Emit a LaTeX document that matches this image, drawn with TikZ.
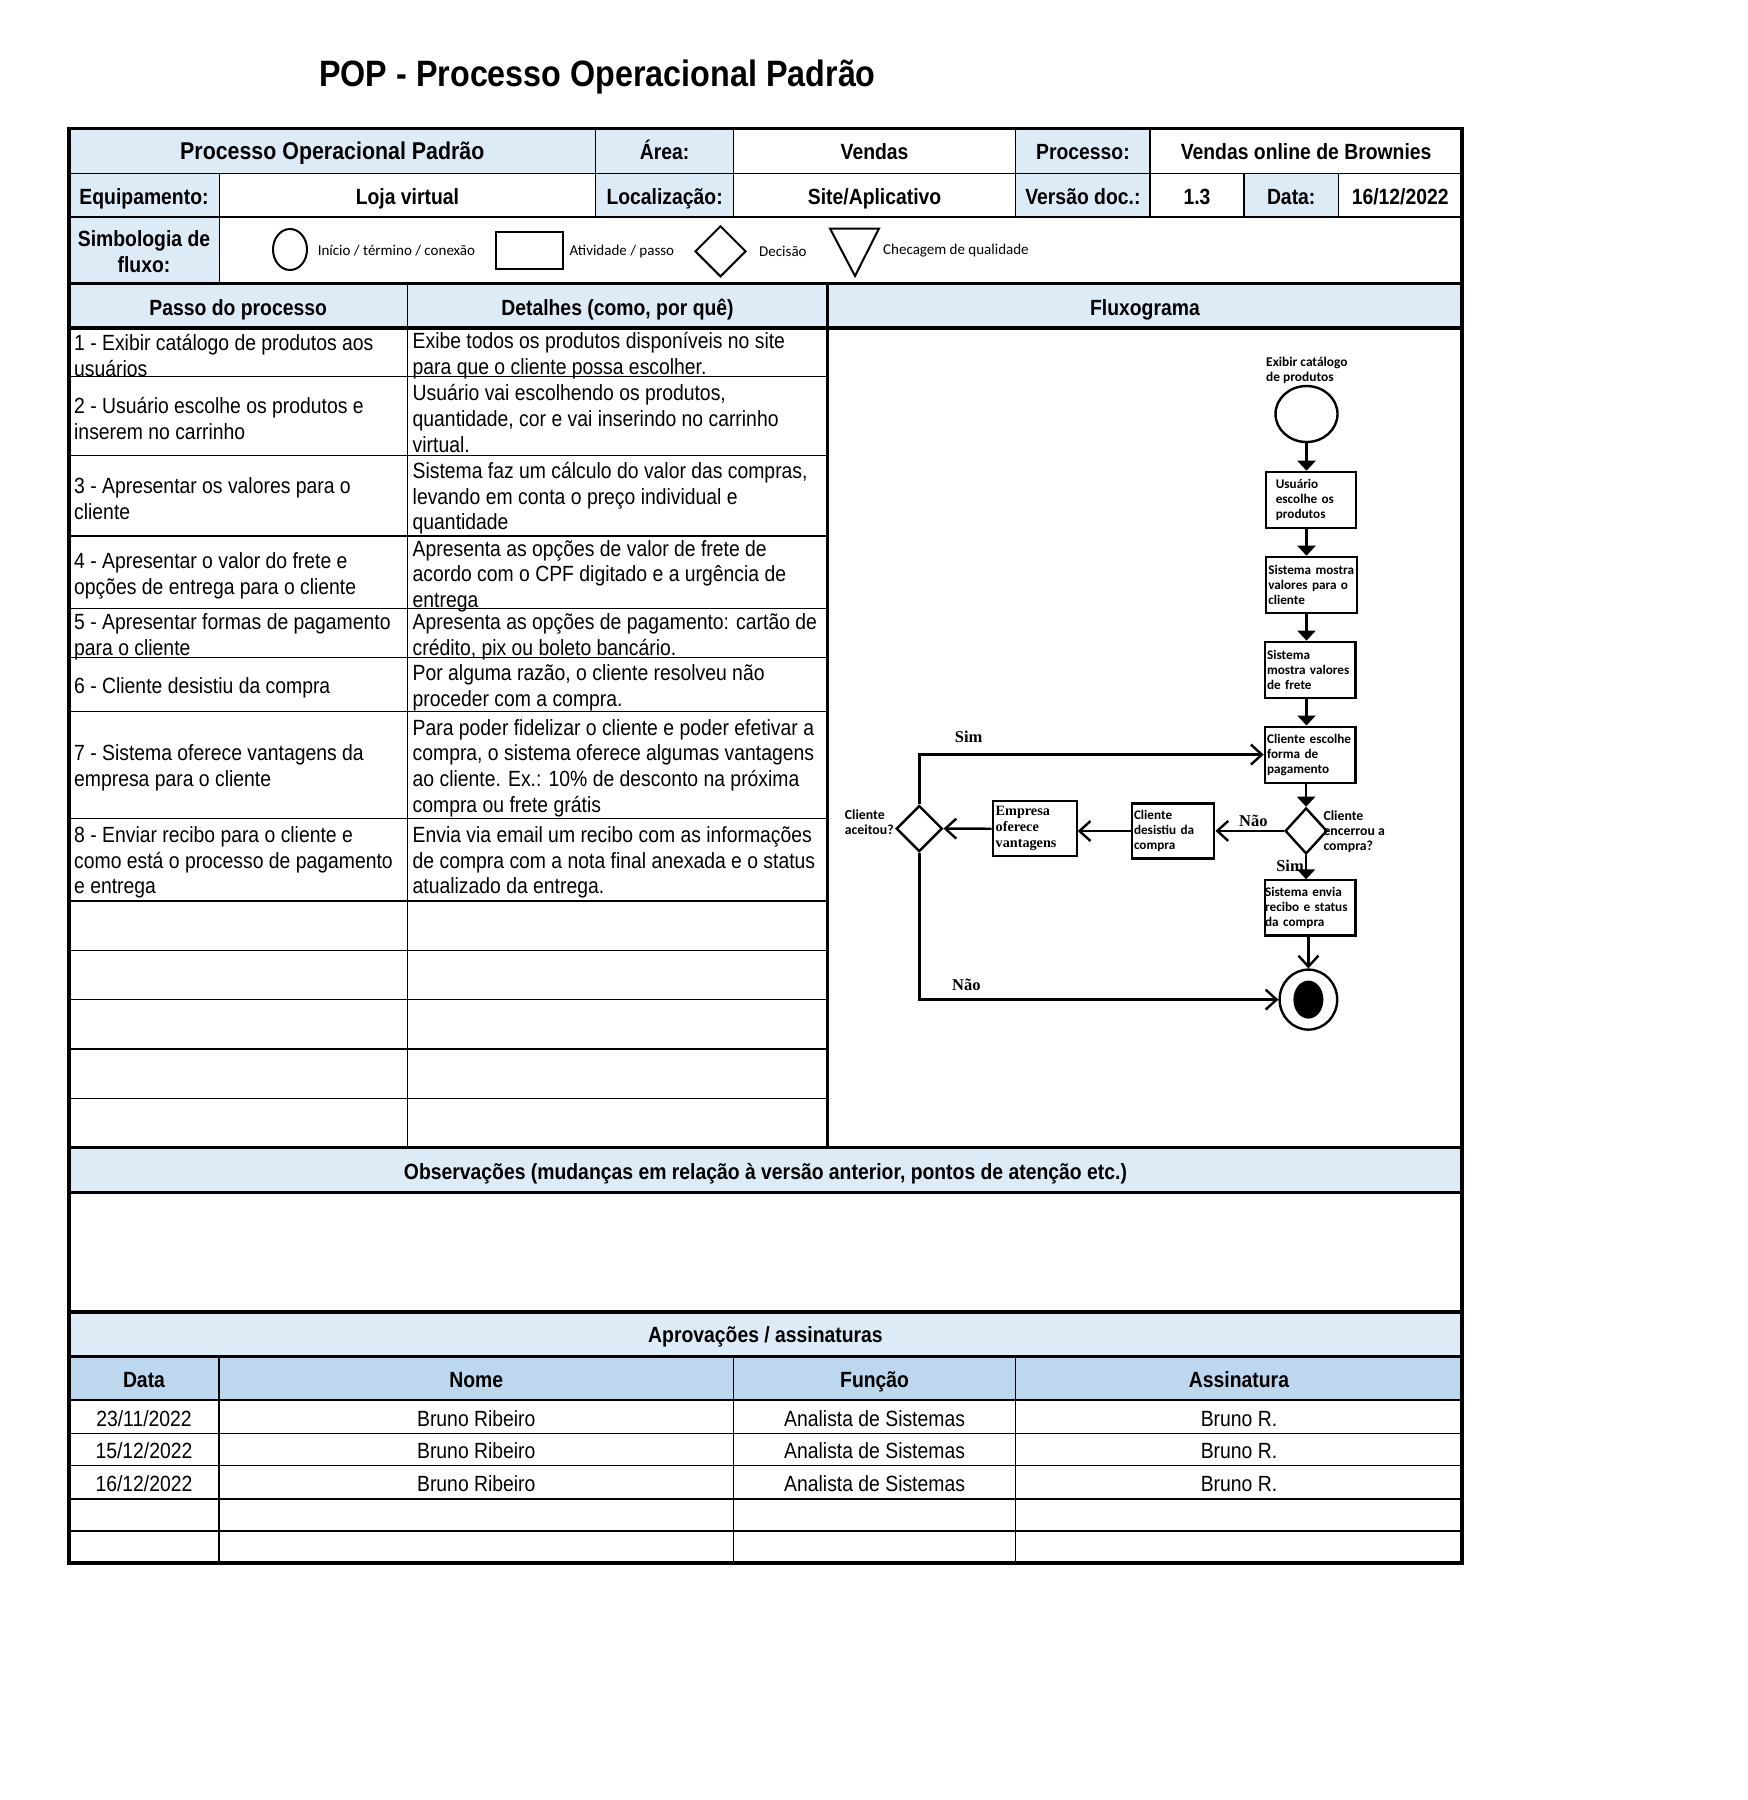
\documentclass[tikz,border=0pt]{standalone}
\usepackage{fontspec}
\setmainfont[FakeStretch=0.88]{Liberation Sans}
\newfontfamily\calib{Carlito}
\newfontfamily\tms{Liberation Serif}
\usetikzlibrary{shapes.geometric,arrows.meta,calc}
\definecolor{hdrblue}{HTML}{DDEBF7}
\definecolor{colblue}{HTML}{BDD7EE}
\tikzset{
  txt/.style={inner sep=0pt, font=\fontsize{22}{25.6}\selectfont},
  cell/.style={txt, text height=15.8pt, text depth=0pt},
  bcell/.style={cell, font=\bfseries\fontsize{22}{25.6}\selectfont},
  ltxt/.style={txt, anchor=west, align=left},
  fbox/.style={draw, line width=2.2pt, inner sep=0pt, minimum width=90.6pt, minimum height=56pt, align=left, text width=86pt, font=\calib\bfseries\fontsize{13.2}{14.9}\selectfont},
  flab/.style={inner sep=0pt, font=\calib\bfseries\fontsize{13.4}{14.9}\selectfont, align=left},
  yn/.style={inner sep=0pt, font=\tms\bfseries\fontsize{16.5}{18}\selectfont},
  flow/.style={line width=2.4pt},
  tri/.style={-{Triangle[width=18pt,length=10pt]}},
  barb/.style={-{Straight Barb[width=20pt,length=11pt]}},
  thinrule/.style={line width=1.3pt},
  medrule/.style={line width=2.2pt},
  thickrule/.style={line width=3.5pt},
  legtxt/.style={inner sep=0pt, anchor=west, font=\calib\fontsize{15}{17}\selectfont},
  legshape/.style={draw, line width=2pt, inner sep=0pt},
}
\begin{document}
\begin{tikzpicture}[x=1pt,y=-1pt]
\useasboundingbox[fill=white] (0,0) rectangle (1748,1800);

% ---------- title ----------
\node[inner sep=0pt, text height=26.3pt, text depth=0pt, font=\bfseries\fontsize{36.7}{40}\selectfont] (title) at (597.5,73.5) {POP - Processo Operacional Padrão};

% ---------- fills ----------
\fill[hdrblue] (68.9,128.5) rectangle (595.7,173.3);
\fill[hdrblue] (595.7,128.5) rectangle (733.4,216.9);
\fill[hdrblue] (1015.7,128.5) rectangle (1150,216.9);
\fill[hdrblue] (68.9,173.3) rectangle (219.2,283.5);
\fill[hdrblue] (1244.1,173.3) rectangle (1338.2,216.9);
\fill[hdrblue] (68.9,283.5) rectangle (1462.2,328.2);
\fill[hdrblue] (68.9,1147.7) rectangle (1462.2,1192.4);
\fill[hdrblue] (68.9,1311.8) rectangle (1462.2,1356.6);
\fill[colblue] (68.9,1356.6) rectangle (1462.2,1400.2);

% ---------- thin rules ----------
\draw[thinrule] (68.9,173.3) -- (1462.2,173.3);
\draw[thinrule] (68.9,216.9) -- (1462.2,216.9);
\foreach \yy in {376.4,455.6,536.0,608.3,657.6,711.6,818.3,900.9,950.3,999.6,1049.0,1098.3}
  \draw[thinrule] (68.9,\yy) -- (827.5,\yy);
\draw[thinrule] (219.2,173.3) -- (219.2,283.5);
\foreach \xx in {595.7,733.4,1015.7,1150.0}
  \draw[thinrule] (\xx,128.5) -- (\xx,216.9);
\draw[thinrule] (1244.1,173.3) -- (1244.1,216.9);
\draw[thinrule] (1338.2,173.3) -- (1338.2,216.9);
\draw[thinrule] (407.4,283.5) -- (407.4,1147.7);
\draw[medrule] (827.5,283.5) -- (827.5,1147.7);
\draw[medrule] (68.9,1400.2) -- (1462.2,1400.2);
\foreach \yy in {1433.5,1465.6,1498.9,1531.0}
  \draw[thinrule] (68.9,\yy) -- (1462.2,\yy);
\draw[medrule] (219.2,1356.6) -- (219.2,1563.2);
\draw[line width=1pt] (733.4,1356.6) -- (733.4,1563.2);
\draw[line width=1pt] (1015.7,1356.6) -- (1015.7,1563.2);

% ---------- thick rules ----------
\foreach \yy in {283.5,328.2,1147.7,1192.4,1311.8,1356.6}
  \draw[thickrule] (68.9,\yy) -- (1462.2,\yy);
\draw[thickrule] (68.9,128.5) rectangle (1462.2,1563.2);

% ---------- header texts ----------
\node[bcell, font=\bfseries\fontsize{24.3}{26}\selectfont, text height=17.4pt] (h1) at (332.3,151.2) {Processo Operacional Padrão};
\node[bcell] (h2) at (664.6,151.5) {Área:};
\node[bcell] (h3) at (874.6,151.5) {Vendas};
\node[bcell] (h4) at (1082.9,151.5) {Processo:};
\node[bcell] (h5) at (1306.1,151.5) {Vendas online de Brownies};
\node[bcell] (h6) at (144,196.3) {Equipamento:};
\node[bcell] (h7) at (407.4,196.3) {Loja virtual};
\node[bcell] (h8) at (664.6,196.3) {Localização:};
\node[bcell] (h9) at (874.6,196.3) {Site/Aplicativo};
\node[bcell] (h10) at (1082.9,196.3) {Versão doc.:};
\node[bcell] (h11) at (1197,196.3) {1.3};
\node[bcell] (h12) at (1291.2,196.3) {Data:};
\node[bcell] (h13) at (1400.2,196.3) {16/12/2022};
\node[txt, align=center, font=\bfseries\fontsize{22}{25.6}\selectfont] (h14) at (144,251.5) {Simbologia de\\fluxo:};

% ---------- legend ----------
\node[legshape, ellipse, minimum width=34pt, minimum height=41pt] (lgc) at (290,249.5) {};
\node[legtxt] (lgct) at (317.6,251) {Início / término / conexão};
\node[legshape, minimum width=67pt, minimum height=37pt] (lgr) at (529.5,250.5) {};
\node[legtxt] (lgrt) at (569.4,251) {Atividade / passo};
\node[legshape, diamond, minimum width=51pt, minimum height=51pt] (lgd) at (720.5,251.3) {};
\node[legtxt] (lgdt) at (759,251) {Decisão};
\draw[line width=2pt, line join=miter] (830,228.5) -- (879,228.5) -- (855,276) -- cycle;
\node[legtxt] (lgtt) at (883,251) {Checagem de qualidade};

% ---------- column headers ----------
\node[bcell] (c1) at (238.2,307.6) {Passo do processo};
\node[bcell] (c2) at (617.5,307.6) {Detalhes (como, por quê)};
\node[bcell] (c3) at (1144.9,307.6) {Fluxograma};

% ---------- steps ----------
\node[ltxt] (s1) at (74,355.5) {1 - Exibir catálogo de produtos aos\\usuários};
\node[ltxt] (d1t) at (412.5,355.5) {Exibe todos os produtos disponíveis no site\\para que o cliente possa escolher.};
\node[ltxt] (s2) at (74,418.5) {2 - Usuário escolhe os produtos e\\inserem no carrinho};
\node[ltxt] (d2t) at (412.5,418.5) {Usuário vai escolhendo os produtos,\\quantidade, cor e vai inserindo no carrinho\\virtual.};
\node[ltxt] (s3) at (74,498.5) {3 - Apresentar os valores para o\\cliente};
\node[ltxt] (d3t) at (412.5,498.5) {Sistema faz um cálculo do valor das compras,\\levando em conta o preço individual e\\quantidade};
\node[ltxt] (s4) at (74,576) {4 - Apresentar o valor do frete e\\opções de entrega para o cliente};
\node[ltxt] (d4t) at (412.5,576) {Apresenta as opções de valor de frete de\\acordo com o CPF digitado e a urgência de\\entrega};
\node[ltxt] (s5) at (74,637) {5 - Apresentar formas de pagamento\\para o cliente};
\node[ltxt] (d5t) at (412.5,637) {Apresenta as opções de pagamento: cartão de\\crédito, pix ou boleto bancário.};
\node[ltxt] (s6) at (74,688) {6 - Cliente desistiu da compra};
\node[ltxt] (d6t) at (412.5,688) {Por alguma razão, o cliente resolveu não\\proceder com a compra.};
\node[ltxt] (s7) at (74,768) {7 - Sistema oferece vantagens da\\empresa para o cliente};
\node[ltxt] (d7t) at (412.5,768) {Para poder fidelizar o cliente e poder efetivar a\\compra, o sistema oferece algumas vantagens\\ao cliente. Ex.: 10\% de desconto na próxima\\compra ou frete grátis};
\node[ltxt] (s8) at (74,862.5) {8 - Enviar recibo para o cliente e\\como está o processo de pagamento\\e entrega};
\node[ltxt] (d8t) at (412.5,862.5) {Envia via email um recibo com as informações\\de compra com a nota final anexada e o status\\atualizado da entrega.};

% ---------- observations / approvals ----------
\node[bcell] (obs) at (765.5,1171.8) {Observações (mudanças em relação à versão anterior, pontos de atenção etc.)};
\node[bcell] (apr) at (765.5,1335) {Aprovações / assinaturas};
\node[bcell] (a1) at (144,1379.5) {Data};
\node[bcell] (a2) at (476.3,1379.5) {Nome};
\node[bcell] (a3) at (874.6,1379.5) {Função};
\node[bcell] (a4) at (1239,1379.5) {Assinatura};
\foreach \yy/\dd [count=\i] in {1418.5/23\slash11\slash2022,1450.8/15\slash12\slash2022,1484/16\slash12\slash2022}{
  \node[cell] (r\i a) at (144,\yy) {\dd};
  \node[cell] (r\i b) at (476.3,\yy) {Bruno Ribeiro};
  \node[cell] (r\i c) at (874.6,\yy) {Analista de Sistemas};
  \node[cell] (r\i d) at (1239,\yy) {Bruno R.};
}

% ---------- flowchart ----------
\node[draw, flow, ellipse, minimum width=62pt, minimum height=56pt, inner sep=0pt] (start) at (1306.5,414) {};
\node[flab, anchor=west] (lstart) at (1266,370) {Exibir catálogo\\de produtos};
\node[fbox, text width=70pt, minimum width=89.7pt] (b1) at (1310.8,499.8) {Usuário\\escolhe os\\produtos};
\node[fbox] (b2) at (1311.3,584.8) {Sistema mostra\\valores para o\\cliente};
\node[fbox] (b3) at (1310.1,669.7) {Sistema\\mostra valores\\de frete};
\node[fbox] (b4) at (1310.1,754.6) {Cliente escolhe\\forma de\\pagamento};
\node[draw, flow, diamond, minimum width=42pt, minimum height=46pt, inner sep=0pt] (dec1) at (1306.1,830.9) {};
\node[fbox, minimum width=82.7pt, minimum height=55.1pt, text width=78pt] (des) at (1173,831) {Cliente\\desistiu da\\compra};
\node[fbox, minimum width=83.8pt, minimum height=55.1pt, text width=78pt, font=\tms\bfseries\fontsize{14.2}{16}\selectfont] (emp) at (1034.7,828.7) {Empresa\\oferece\\vantagens};
\node[draw, flow, diamond, minimum width=46pt, minimum height=46pt, inner sep=0pt] (dec2) at (919.3,828.6) {};
\node[fbox, minimum height=55.1pt, text width=90pt] (rec) at (1310.1,907.9) {Sistema envia\\recibo e status\\da compra};
\node[draw, flow, ellipse, minimum width=57.6pt, minimum height=60pt, inner sep=0pt] (endo) at (1308.4,999.6) {};
\node[fill=black, ellipse, minimum width=30pt, minimum height=38pt, inner sep=0pt] (endi) at (1308.4,999.6) {};

\draw[flow,tri] (start.south) -- (start.south |- b1.north);
\draw[flow,tri] (b1.south -| start) -- (b2.north -| start);
\draw[flow,tri] (b2.south -| start) -- (b3.north -| start);
\draw[flow,tri] (b3.south -| start) -- (b4.north -| start);
\draw[flow,tri] (b4.south -| dec1) -- (dec1.north);
\draw[flow,barb] (dec1.west) -- (des.east |- dec1.west);
\draw[flow,barb] (des.west) -- (emp.east |- des.west);
\draw[flow,barb] (emp.west) -- (dec2.east);
\draw[flow,barb] (dec2.north) |- (b4.west);
\draw[flow,barb] (dec2.south) |- (endo.west);
\draw[flow,tri] (dec1.south) -- (dec1.south |- rec.north);
\draw[flow,barb] (endo.north |- rec.south) -- (endo.north);

\node[yn] (ls1) at (968.7,736.8) {Sim};
\node[yn] (ln1) at (966.4,984.7) {Não};
\node[yn] (ln2) at (1253.3,820.6) {Não};
\node[yn] (ls2) at (1290,865.4) {Sim};
\node[flab, anchor=west, font=\calib\bfseries\fontsize{13.8}{15}\selectfont] (ld1) at (1323.3,831.5) {Cliente\\encerrou a\\compra?};
\node[flab, anchor=west, font=\calib\bfseries\fontsize{13.8}{15}\selectfont] (ld2) at (844.7,822) {Cliente\\aceitou?};
\end{tikzpicture}
\end{document}
